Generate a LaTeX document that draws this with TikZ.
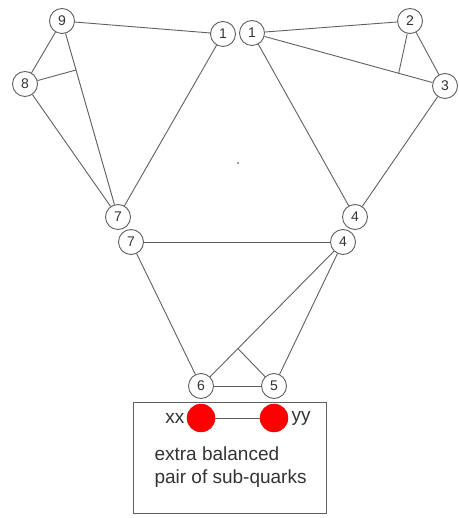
\documentclass[tikz,border=0pt]{standalone}
\usepackage{fontspec}
\setmainfont{Liberation Sans}
\usetikzlibrary{calc}

\tikzset{
  quark/.style={circle, draw=gray!75!black, fill=white, line width=0.9pt, minimum size=25pt, inner sep=0pt, text=black!80, font=\fontsize{14}{14}\selectfont},
  subquark/.style={circle, fill=red, draw=red!85!black, minimum size=28pt, inner sep=0pt},
  link/.style={draw=gray!75!black, line width=0.9pt}
}

\begin{document}
\begin{tikzpicture}[x=1pt, y=-1pt]
    \useasboundingbox (0,0) rectangle (458,518);

    % 外框
    \draw[gray!75!black, line width=0.9pt] (133,402) rectangle (326,513);

    % 结点
    \node[quark] (n9) at (62,21) {9};
    \node[quark] (n8) at (25,84) {8};
    \node[quark] (n1a) at (223,34) {1};
    \node[quark] (n1b) at (252,33) {1};
    \node[quark] (n2) at (410,21) {2};
    \node[quark] (n3) at (445,86) {3};
    \node[quark] (n7a) at (118,217) {7};
    \node[quark] (n7b) at (131,242) {7};
    \node[quark] (n4a) at (355,217) {4};
    \node[quark] (n4b) at (343,242) {4};
    \node[quark] (n6) at (201,386) {6};
    \node[quark] (n5) at (274,386) {5};

    % 一对红色子夸克
    \node[subquark] (xx) at (201,418) {};
    \node[subquark] (yy) at (274,418) {};
    \node[font=\fontsize{19}{19}\selectfont, text=black!80, left=-1pt] (xxlabel) at (xx.west) {xx};
    \node[font=\fontsize{19}{19}\selectfont, text=black!80, right=0pt] (yylabel) at (yy.east) {yy};
    \node[font=\fontsize{19}{23}\selectfont, text=black!80, align=left, anchor=north west] (note) at (151,443)
        {extra balanced\\pair of sub-quarks};

    % 中心小点
    \fill[gray] (238,163) circle (1.2pt);

    % 横杆的端点
    \coordinate (c8) at ($(n9)!0.25!(n7a)$);
    \coordinate (c2) at ($(n1b)!0.76!(n3)$);
    \coordinate (c5) at ($(n4b)!0.74!(n6)$);

    % 连线
    \foreach \a/\b in {n9/n1a, n9/n8, n9/n7a, n8/n7a, n1a/n7a,
                       n1b/n2, n1b/n3, n2/n3, n1b/n4a, n3/n4a,
                       n7b/n4b, n7b/n6, n4b/n6, n4b/n5, n6/n5, xx/yy}
        \draw[link] (\a) -- (\b);
    \draw[link] (n8) -- (c8);
    \draw[link] (n2) -- (c2);
    \draw[link] (n5) -- (c5);
\end{tikzpicture}
\end{document}
